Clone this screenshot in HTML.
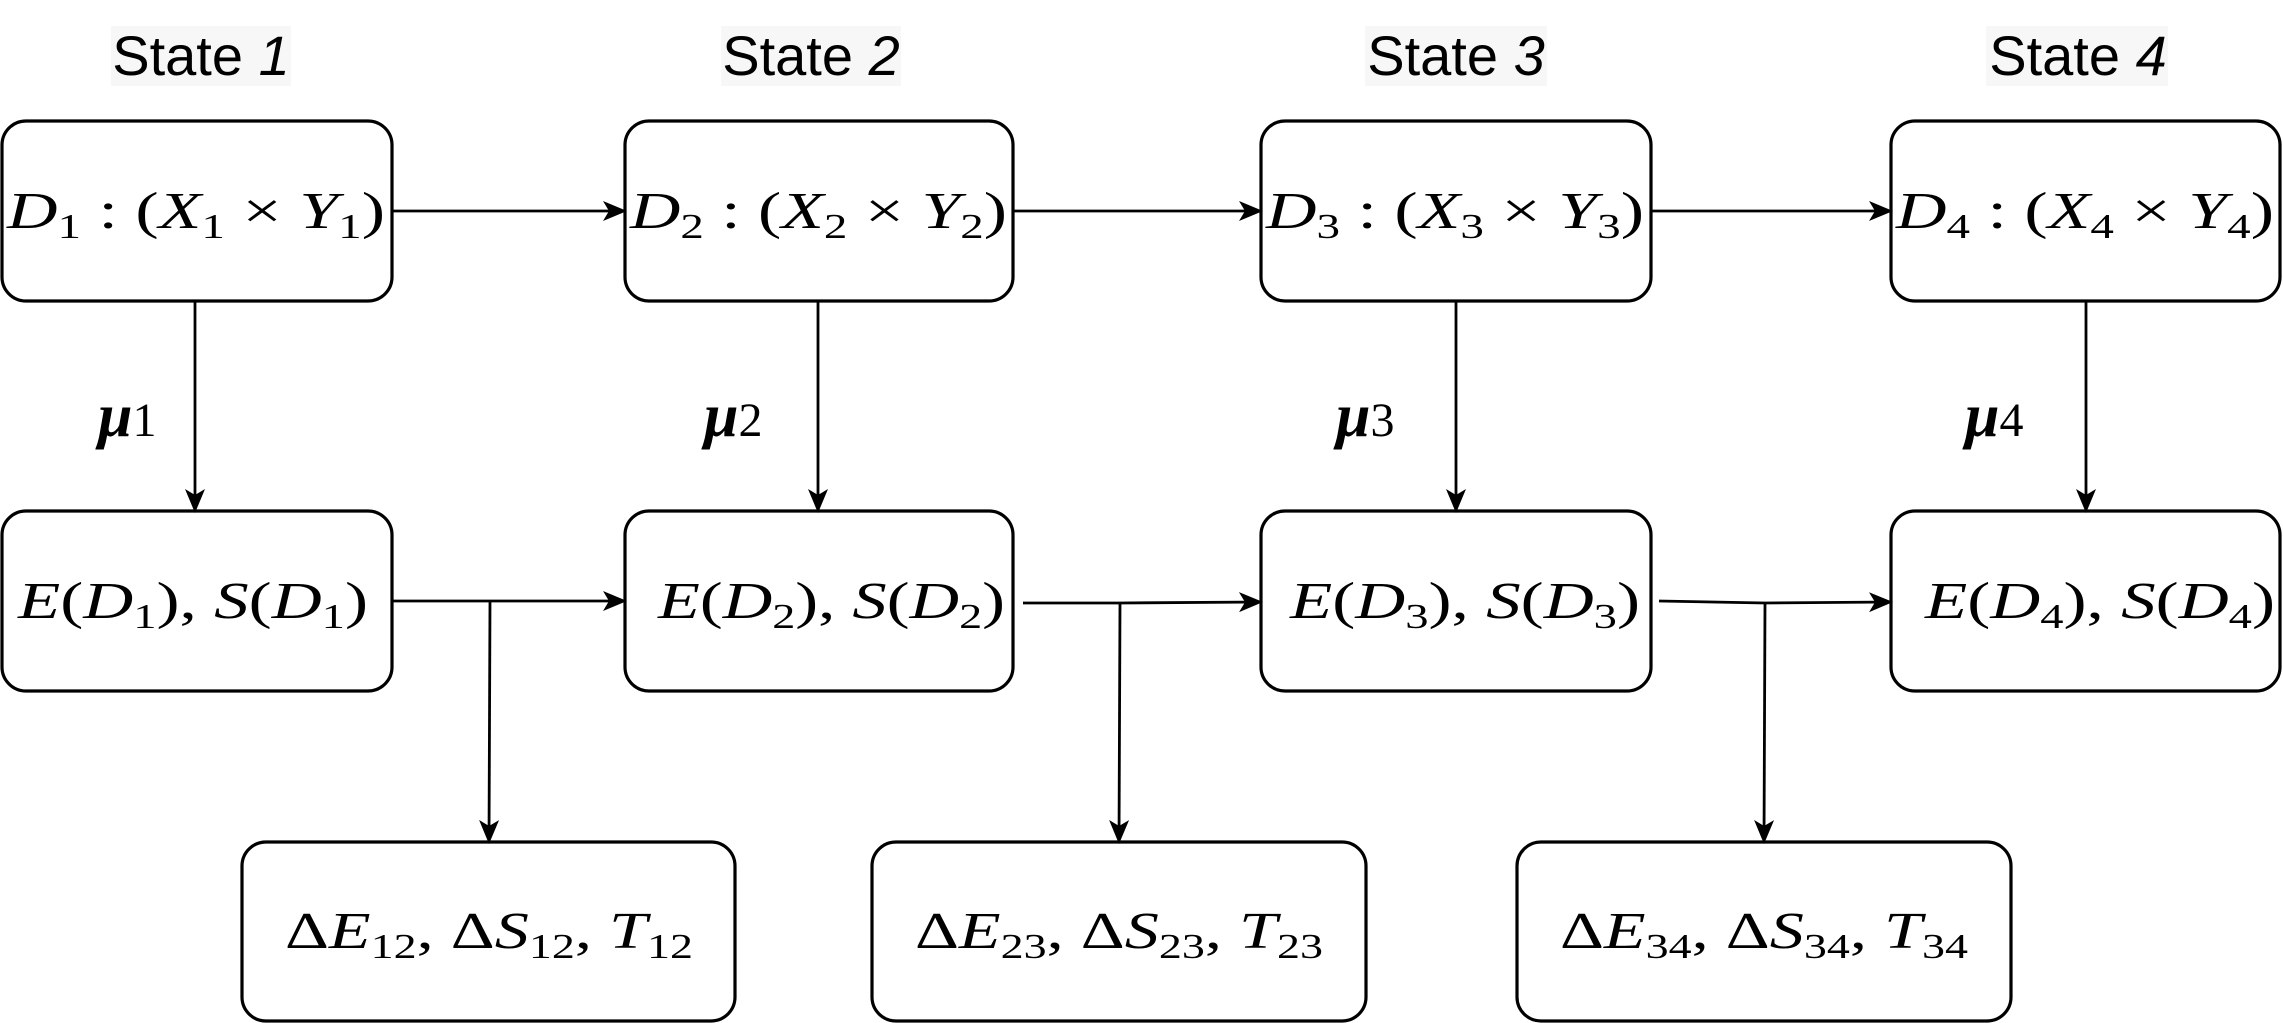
<!DOCTYPE html>
<html><head><meta charset="utf-8"><style>
html,body{margin:0;padding:0;background:#fff}
svg{display:block}
.m{font-family:"Liberation Serif",serif;font-size:52px;fill:#000}
.i{font-style:italic}
.s{font-size:35px;font-style:normal}
.st{font-family:"Liberation Sans",sans-serif;font-size:56px;fill:#000}
</style></head><body>
<svg width="2283" height="1023" viewBox="0 0 2283 1023" xmlns="http://www.w3.org/2000/svg">
<defs>
<marker id="a" markerWidth="24" markerHeight="20" refX="22" refY="10" orient="auto" markerUnits="userSpaceOnUse">
<path d="M0,0 L24,10 L0,20 L6,10 Z" fill="#000"/>
</marker>
</defs>
<g fill="#f7f7f7">
<rect x="111" y="26" width="180" height="60"/>
<rect x="721" y="26" width="180" height="60"/>
<rect x="1365" y="26" width="182" height="60"/>
<rect x="1986" y="26" width="182" height="60"/>
</g>
<text class="st" x="201" y="75" text-anchor="middle">State <tspan font-style="italic">1</tspan></text>
<text class="st" x="811" y="75" text-anchor="middle">State <tspan font-style="italic">2</tspan></text>
<text class="st" x="1456" y="75" text-anchor="middle">State <tspan font-style="italic">3</tspan></text>
<text class="st" x="2078" y="75" text-anchor="middle">State <tspan font-style="italic">4</tspan></text>

<g fill="#fff" stroke="#000" stroke-width="3.2">
<rect x="2" y="121" width="390" height="180" rx="24"/>
<rect x="625" y="121" width="388" height="180" rx="24"/>
<rect x="1261" y="121" width="390" height="180" rx="24"/>
<rect x="1891" y="121" width="389" height="180" rx="24"/>
<rect x="2" y="511" width="390" height="180" rx="24"/>
<rect x="625" y="511" width="388" height="180" rx="24"/>
<rect x="1261" y="511" width="390" height="180" rx="24"/>
<rect x="1891" y="511" width="389" height="180" rx="24"/>
<rect x="242" y="842" width="493" height="179" rx="24"/>
<rect x="872" y="842" width="494" height="179" rx="24"/>
<rect x="1517" y="842" width="494" height="179" rx="24"/>
</g>

<g stroke="#000" stroke-width="2.8" fill="none" marker-end="url(#a)">
<line x1="392" y1="211" x2="625" y2="211"/>
<line x1="1013" y1="211" x2="1261" y2="211"/>
<line x1="1651" y1="211" x2="1891" y2="211"/>
<line x1="195" y1="301" x2="195" y2="511"/>
<line x1="818" y1="301" x2="818" y2="511"/>
<line x1="1456" y1="301" x2="1456" y2="511"/>
<line x1="2086" y1="301" x2="2086" y2="511"/>
<line x1="392" y1="601" x2="625" y2="601"/>
<path d="M1023,603 L1120,603 L1261,602"/>
<path d="M1659,601 L1765,603 L1891,602"/>
<line x1="490" y1="601" x2="489" y2="842"/>
<line x1="1120" y1="603" x2="1119" y2="842"/>
<line x1="1765" y1="603" x2="1764" y2="842"/>
</g>

<g class="m">
<text x="7" y="228" textLength="378" lengthAdjust="spacingAndGlyphs"><tspan class="i">D</tspan><tspan class="s" dy="10">1</tspan><tspan dy="-10"> : (</tspan><tspan class="i">X</tspan><tspan class="s" dy="10">1</tspan><tspan dy="-10"> × </tspan><tspan class="i">Y</tspan><tspan class="s" dy="10">1</tspan><tspan dy="-10">)</tspan></text>
<text x="630" y="228" textLength="377" lengthAdjust="spacingAndGlyphs"><tspan class="i">D</tspan><tspan class="s" dy="10">2</tspan><tspan dy="-10"> : (</tspan><tspan class="i">X</tspan><tspan class="s" dy="10">2</tspan><tspan dy="-10"> × </tspan><tspan class="i">Y</tspan><tspan class="s" dy="10">2</tspan><tspan dy="-10">)</tspan></text>
<text x="1266" y="228" textLength="378" lengthAdjust="spacingAndGlyphs"><tspan class="i">D</tspan><tspan class="s" dy="10">3</tspan><tspan dy="-10"> : (</tspan><tspan class="i">X</tspan><tspan class="s" dy="10">3</tspan><tspan dy="-10"> × </tspan><tspan class="i">Y</tspan><tspan class="s" dy="10">3</tspan><tspan dy="-10">)</tspan></text>
<text x="1896" y="228" textLength="378" lengthAdjust="spacingAndGlyphs"><tspan class="i">D</tspan><tspan class="s" dy="10">4</tspan><tspan dy="-10"> : (</tspan><tspan class="i">X</tspan><tspan class="s" dy="10">4</tspan><tspan dy="-10"> × </tspan><tspan class="i">Y</tspan><tspan class="s" dy="10">4</tspan><tspan dy="-10">)</tspan></text>

<text x="18" y="618" textLength="350" lengthAdjust="spacingAndGlyphs"><tspan class="i">E</tspan>(<tspan class="i">D</tspan><tspan class="s" dy="10">1</tspan><tspan dy="-10">), </tspan><tspan class="i">S</tspan>(<tspan class="i">D</tspan><tspan class="s" dy="10">1</tspan><tspan dy="-10">)</tspan></text>
<text x="658" y="618" textLength="347" lengthAdjust="spacingAndGlyphs"><tspan class="i">E</tspan>(<tspan class="i">D</tspan><tspan class="s" dy="10">2</tspan><tspan dy="-10">), </tspan><tspan class="i">S</tspan>(<tspan class="i">D</tspan><tspan class="s" dy="10">2</tspan><tspan dy="-10">)</tspan></text>
<text x="1290" y="618" textLength="350" lengthAdjust="spacingAndGlyphs"><tspan class="i">E</tspan>(<tspan class="i">D</tspan><tspan class="s" dy="10">3</tspan><tspan dy="-10">), </tspan><tspan class="i">S</tspan>(<tspan class="i">D</tspan><tspan class="s" dy="10">3</tspan><tspan dy="-10">)</tspan></text>
<text x="1925" y="618" textLength="350" lengthAdjust="spacingAndGlyphs"><tspan class="i">E</tspan>(<tspan class="i">D</tspan><tspan class="s" dy="10">4</tspan><tspan dy="-10">), </tspan><tspan class="i">S</tspan>(<tspan class="i">D</tspan><tspan class="s" dy="10">4</tspan><tspan dy="-10">)</tspan></text>

<text x="285" y="948" textLength="408" lengthAdjust="spacingAndGlyphs">Δ<tspan class="i">E</tspan><tspan class="s" dy="10">12</tspan><tspan dy="-10">, Δ</tspan><tspan class="i">S</tspan><tspan class="s" dy="10">12</tspan><tspan dy="-10">, </tspan><tspan class="i">T</tspan><tspan class="s" dy="10">12</tspan></text>
<text x="915" y="948" textLength="408" lengthAdjust="spacingAndGlyphs">Δ<tspan class="i">E</tspan><tspan class="s" dy="10">23</tspan><tspan dy="-10">, Δ</tspan><tspan class="i">S</tspan><tspan class="s" dy="10">23</tspan><tspan dy="-10">, </tspan><tspan class="i">T</tspan><tspan class="s" dy="10">23</tspan></text>
<text x="1560" y="948" textLength="408" lengthAdjust="spacingAndGlyphs">Δ<tspan class="i">E</tspan><tspan class="s" dy="10">34</tspan><tspan dy="-10">, Δ</tspan><tspan class="i">S</tspan><tspan class="s" dy="10">34</tspan><tspan dy="-10">, </tspan><tspan class="i">T</tspan><tspan class="s" dy="10">34</tspan></text>

<text x="98" y="436"><tspan style="font-weight:bold;font-style:italic;font-size:62px">μ</tspan><tspan style="font-size:48px" dy="0">1</tspan></text>
<text x="704" y="436"><tspan style="font-weight:bold;font-style:italic;font-size:62px">μ</tspan><tspan style="font-size:48px">2</tspan></text>
<text x="1336" y="436"><tspan style="font-weight:bold;font-style:italic;font-size:62px">μ</tspan><tspan style="font-size:48px">3</tspan></text>
<text x="1965" y="436"><tspan style="font-weight:bold;font-style:italic;font-size:62px">μ</tspan><tspan style="font-size:48px">4</tspan></text>
</g>
</svg>
</body></html>
